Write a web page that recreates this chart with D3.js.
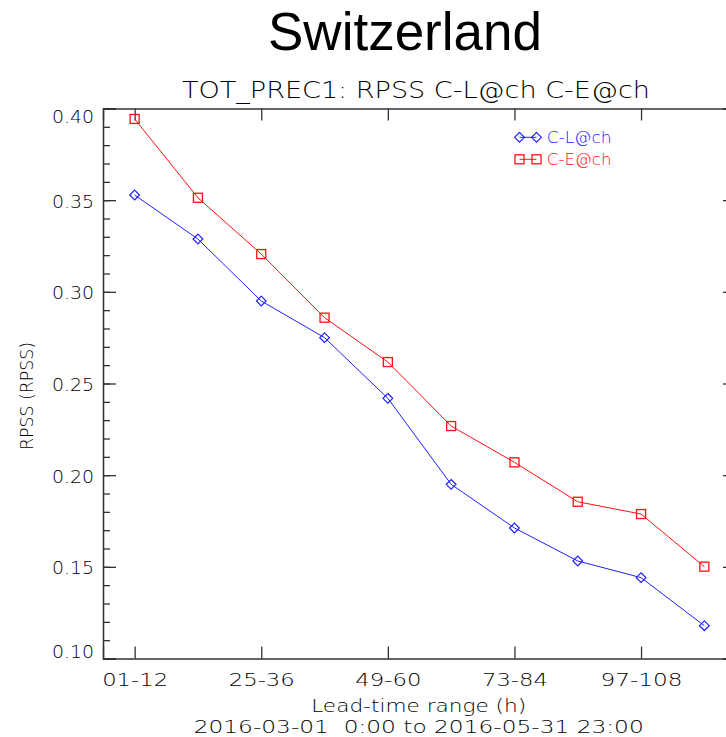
<!DOCTYPE html>
<html>
<head>
<meta charset="utf-8">
<script src="https://cdn.jsdelivr.net/npm/d3@7"></script>
<style>
  body { margin: 0; background: #fff; }
  svg { display: block; }
  .axis path, .axis line { stroke: #333; stroke-width: 1.3; }
  .axis text { font-family: "DejaVu Sans", sans-serif; font-weight: 200; font-size: 18px; fill: #000; }
  .lbl { font-family: "DejaVu Sans", sans-serif; font-weight: 200; fill: #000; white-space: pre; }
</style>
</head>
<body>
<div id="chart"></div>
<script>
// data
var leadTimes = ["01-12", "13-24", "25-36", "37-48", "49-60", "61-72", "73-84", "85-96", "97-108", "109-120"];
var rpssCL = [0.3528, 0.3288, 0.2950, 0.2750, 0.2419, 0.1950, 0.1712, 0.1532, 0.1441, 0.1179];
var rpssCE = [0.3943, 0.3513, 0.3206, 0.2859, 0.2617, 0.2268, 0.2070, 0.1855, 0.1788, 0.1501];
var seriesNames = ["C-L@ch", "C-E@ch"];
var yMajor = [0.10, 0.15, 0.20, 0.25, 0.30, 0.35, 0.40];
var yMinor = d3.range(10, 41).map(function(d) { return d / 100; });
var xLabelled = [0, 2, 4, 6, 8];

var W = 726, H = 737;
var plot = { left: 103, right: 736, top: 108.5, bottom: 658.5 };

var svg = d3.select("#chart").append("svg")
  .attr("width", W)
  .attr("height", H);

// scales
var x = d3.scaleLinear().domain([-0.5, leadTimes.length - 0.5]).range([plot.left, plot.right]);
var y = d3.scaleLinear().domain([0.10, 0.40]).range([plot.bottom, plot.top]);

// axes: minor ticks first, then major with labels
svg.append("g").attr("class", "axis")
  .attr("transform", "translate(" + plot.left + ",0)")
  .call(d3.axisLeft(y).tickValues(yMinor).tickSize(-7).tickFormat(""));

var yAxisLeft = svg.append("g").attr("class", "axis")
  .attr("transform", "translate(" + plot.left + ",0)")
  .call(d3.axisLeft(y).tickValues(yMajor).tickSize(-13).tickPadding(9).tickFormat(d3.format(".2f")));

yAxisLeft.selectAll("text")
  .attr("textLength", 42)
  .attr("lengthAdjust", "spacingAndGlyphs")
  .attr("dy", function(d) {
    // end labels pushed inside the frame like the original
    if (d === 0.40) return "0.75em";
    if (d === 0.10) return "-0.05em";
    return "0.38em";
  });

svg.append("g").attr("class", "axis")
  .attr("transform", "translate(" + plot.right + ",0)")
  .call(d3.axisRight(y).tickValues(yMinor).tickSize(-7).tickFormat(""));
svg.append("g").attr("class", "axis")
  .attr("transform", "translate(" + plot.right + ",0)")
  .call(d3.axisRight(y).tickValues(yMajor).tickSize(-13).tickFormat(""));

var xAxisBottom = svg.append("g").attr("class", "axis")
  .attr("transform", "translate(0," + plot.bottom + ")")
  .call(d3.axisBottom(x).tickValues(xLabelled).tickSize(-12).tickPadding(15)
    .tickFormat(function(i) { return leadTimes[i]; }));

xAxisBottom.selectAll("text")
  .attr("textLength", function(i) { return leadTimes[i].length > 5 ? 82 : 66; })
  .attr("lengthAdjust", "spacingAndGlyphs");

svg.append("g").attr("class", "axis")
  .attr("transform", "translate(0," + plot.top + ")")
  .call(d3.axisTop(x).tickValues(xLabelled).tickSize(-12).tickFormat(""));

// titles
svg.append("text")
  .attr("x", 405)
  .attr("y", 50)
  .attr("text-anchor", "middle")
  .style("font-family", "'Liberation Sans', Arial, sans-serif")
  .style("font-size", "53px")
  .text("Switzerland");

svg.append("text").attr("class", "lbl")
  .attr("x", 416)
  .attr("y", 98)
  .attr("text-anchor", "middle")
  .attr("textLength", 468)
  .attr("lengthAdjust", "spacingAndGlyphs")
  .style("font-size", "23px")
  .text("TOT_PREC1: RPSS " + seriesNames.join(" "));

svg.append("text").attr("class", "lbl")
  .attr("x", 418.7)
  .attr("y", 711.5)
  .attr("text-anchor", "middle")
  .attr("textLength", 215)
  .attr("lengthAdjust", "spacingAndGlyphs")
  .style("font-size", "18px")
  .text("Lead-time range (h)");

svg.append("text").attr("class", "lbl")
  .attr("x", 418.7)
  .attr("y", 733)
  .attr("text-anchor", "middle")
  .attr("textLength", 450)
  .attr("lengthAdjust", "spacingAndGlyphs")
  .style("font-size", "18px")
  .text("2016-03-01  0:00 to 2016-05-31 23:00");

svg.append("text").attr("class", "lbl")
  .attr("transform", "translate(33,396) rotate(-90)")
  .attr("text-anchor", "middle")
  .attr("textLength", 108)
  .attr("lengthAdjust", "spacingAndGlyphs")
  .style("font-size", "18px")
  .text("RPSS (RPSS)");

// series
var line = d3.line()
  .x(function(d, i) { return x(i); })
  .y(function(d) { return y(d); });

var diamond = d3.symbol().type(d3.symbolDiamond2).size(60);

function drawSeries(values, color, kind) {
  var g = svg.append("g");
  g.append("path")
    .datum(values)
    .attr("d", line)
    .attr("fill", "none")
    .attr("stroke", color)
    .attr("stroke-width", 1);
  var marks = g.selectAll(".mark")
    .data(values)
    .enter();
  if (kind === "diamond") {
    marks.append("path")
      .attr("class", "mark")
      .attr("d", diamond)
      .attr("transform", function(d, i) { return "translate(" + x(i) + "," + y(d) + ")"; })
      .attr("fill", "none")
      .attr("stroke", color)
      .attr("stroke-width", 1.2);
  } else {
    marks.append("rect")
      .attr("class", "mark")
      .attr("x", function(d, i) { return x(i) - 4.5; })
      .attr("y", function(d) { return y(d) - 4.5; })
      .attr("width", 9)
      .attr("height", 9)
      .attr("fill", "none")
      .attr("stroke", color)
      .attr("stroke-width", 1.3);
  }
}

drawSeries(rpssCL, "#2020ff", "diamond");
drawSeries(rpssCE, "#ff1010", "square");

// legend
var legend = [
  { name: seriesNames[0], color: "#2020ff", kind: "diamond", y: 137.3 },
  { name: seriesNames[1], color: "#ff1010", kind: "square", y: 159.3 }
];

legend.forEach(function(d) {
  var g = svg.append("g");
  g.append("line")
    .attr("x1", 519.5).attr("x2", 536.5)
    .attr("y1", d.y).attr("y2", d.y)
    .attr("stroke", d.color);
  [519.5, 536.5].forEach(function(mx) {
    if (d.kind === "diamond") {
      g.append("path")
        .attr("d", diamond)
        .attr("transform", "translate(" + mx + "," + d.y + ")")
        .attr("fill", "none")
        .attr("stroke", d.color)
        .attr("stroke-width", 1.2);
    } else {
      g.append("rect")
        .attr("x", mx - 4.5).attr("y", d.y - 4.5)
        .attr("width", 9).attr("height", 9)
        .attr("fill", "none")
        .attr("stroke", d.color)
        .attr("stroke-width", 1.3);
    }
  });
  g.append("text").attr("class", "lbl")
    .attr("x", 546.7)
    .attr("y", d.y + 5.5)
    .attr("textLength", 65)
    .attr("lengthAdjust", "spacingAndGlyphs")
    .style("font-size", "15px")
    .style("fill", d.color)
    .text(d.name);
});
</script>
</body>
</html>
